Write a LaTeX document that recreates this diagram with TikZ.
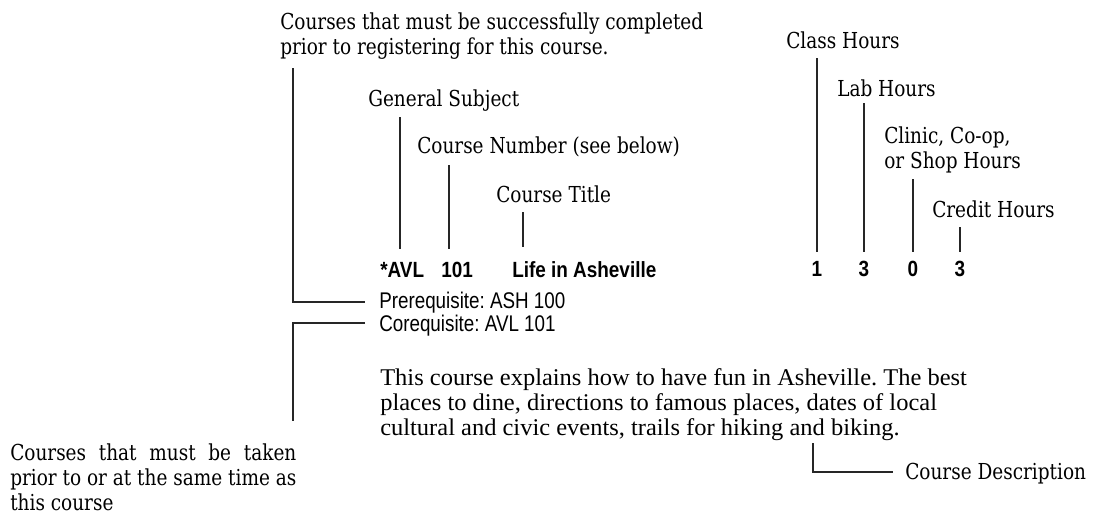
\documentclass[tikz,border=0pt]{standalone}
\usepackage{fontspec}
\newfontfamily\labfont[FakeStretch=0.84]{DejaVu Serif}
\newfontfamily\numfont[FakeStretch=0.86]{Liberation Sans}
\newfontfamily\reqfont[FakeStretch=0.83]{Liberation Sans}
\newfontfamily\descfont[FakeStretch=1.02]{Liberation Serif}
\newlength\cwid
\frenchspacing
\tikzset{
  lab/.style={font=\labfont\fontsize{16.5}{18.75}\selectfont, anchor=base west, inner sep=0pt, align=left},
  code/.style={font=\numfont\bfseries\fontsize{16.5}{18}\selectfont, anchor=base west, inner sep=0pt},
  num/.style={font=\numfont\bfseries\fontsize{16.5}{18}\selectfont, anchor=base, inner sep=0pt},
  req/.style={font=\reqfont\fontsize{17}{19}\selectfont, anchor=base west, inner sep=0pt},
  desc/.style={font=\descfont\fontsize{18}{18.75}\selectfont, anchor=base west, inner sep=0pt, align=left},
  lead/.style={line width=1pt, black!85}
}
\begin{document}
\begin{tikzpicture}[x=0.75pt,y=-0.75pt]
\useasboundingbox (0,0) rectangle (1096,515);
% multi-line nodes are anchored at the baseline of their last line
\node[lab] (pren) at (280,54) {Courses that must be successfully completed\\prior to registering for this course.};
\node[lab] (gs) at (368,106) {General Subject};
\node[lab] (cn) at (417,153) {Course Number (see below)};
\node[lab] (ct) at (496,202) {Course Title};
% course line
\node[code] (avl) at (380,277) {*AVL};
\node[code] (nr) at (441,277) {101};
\node[code] (ttl) at (512,277) {Life in Asheville};
\node[req] (pre) at (379,308) {Prerequisite: ASH 100};
\node[req] (cor) at (379,331) {Corequisite: AVL 101};
% description
\node[desc] (dsc) at (380,435) {This course explains how to have fun in Asheville. The best\\places to dine, directions to famous places, dates of local\\cultural and civic events, trails for hiking and biking.};
\node[lab] (cd) at (905,479) {Course Description};
\node[lab] (coren) at (10,510) {\settowidth{\cwid}{prior to or at the same time as}\makebox[\cwid][s]{Courses that must be taken}\\prior to or at the same time as\\this course};
% hours
\node[lab] (clh) at (786,48) {Class Hours};
\node[lab] (lbh) at (837,96) {Lab Hours};
\node[lab] (cch) at (884,168) {Clinic, Co-op,\\or Shop Hours};
\node[lab] (crh) at (932,217) {Credit Hours};
\node[num] (n1) at (817,276) {1};
\node[num] (n2) at (864,276) {3};
\node[num] (n3) at (913,276) {0};
\node[num] (n4) at (960,276) {3};
% connector end points
\coordinate (pA) at (293,68);
\coordinate (pB) at (365,302);
\coordinate (cA) at (365,323);
\coordinate (cB) at (293,421);
\coordinate (gA) at (400,117);
\coordinate (gB) at (400,249);
\coordinate (nA) at (449,165);
\coordinate (nB) at (449,249);
\coordinate (tA) at (523,212);
\coordinate (tB) at (523,247);
\coordinate (dA) at (813,443);
\coordinate (dB) at (893,472);
\coordinate (h1) at (817,58);
\coordinate (h2) at (864,103);
\coordinate (h3) at (913,179);
\coordinate (h4) at (960,227);
\coordinate (hb) at (0,252);
% connectors
\draw[lead] (pA) |- (pB);
\draw[lead] (cA) -| (cB);
\draw[lead] (gA) -- (gB);
\draw[lead] (nA) -- (nB);
\draw[lead] (tA) -- (tB);
\draw[lead] (dA) |- (dB);
\draw[lead] (h1) -- (h1 |- hb);
\draw[lead] (h2) -- (h2 |- hb);
\draw[lead] (h3) -- (h3 |- hb);
\draw[lead] (h4) -- (h4 |- hb);
\end{tikzpicture}
\end{document}
